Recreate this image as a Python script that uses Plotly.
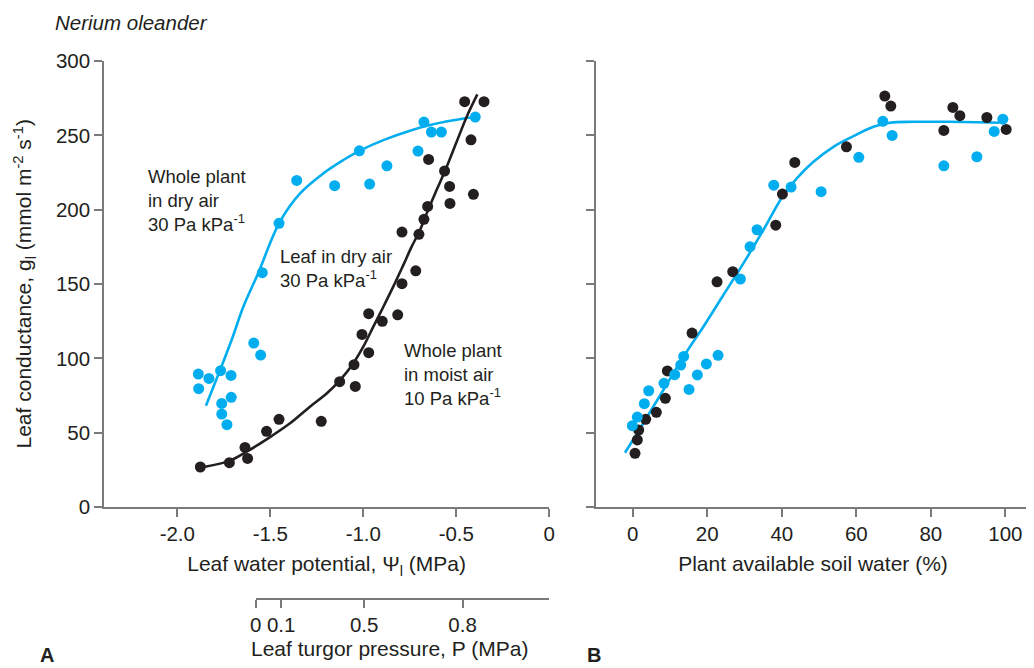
import plotly.graph_objects as go

# ---------------- Data ----------------
# Panel A: leaf conductance vs leaf water potential
dry_psi = [-1.887, -1.830, -1.767, -1.711, -1.885, -1.761, -1.710, -1.761, -1.733,
           -1.589, -1.552, -1.543, -1.453, -1.358, -1.154, -1.021, -0.966, -0.873,
           -0.706, -0.674, -0.634, -0.580, -0.398]
dry_g = [89.4, 86.5, 91.7, 88.5, 79.6, 69.7, 73.8, 62.5, 55.4,
         110.3, 102.2, 157.6, 190.8, 219.7, 216.1, 239.6, 217.2, 229.5,
         239.4, 258.9, 252.2, 252.2, 262.3]

moist_psi = [-1.876, -1.720, -1.636, -1.622, -1.520, -1.453, -1.226, -1.127, -1.043,
             -1.050, -0.971, -1.007, -0.971, -0.898, -0.815, -0.792, -0.718, -0.792,
             -0.701, -0.674, -0.654, -0.649, -0.563, -0.536, -0.534, -0.408, -0.421,
             -0.455, -0.351]
moist_g = [26.9, 29.8, 40.1, 32.7, 50.9, 59.0, 57.6, 84.3, 81.1,
           95.7, 103.8, 116.1, 130.0, 124.9, 129.3, 150.2, 158.9, 184.9,
           183.4, 193.5, 202.2, 233.8, 226.0, 215.6, 204.2, 210.3, 247.0,
           272.6, 272.6]

dry_curve_psi = [-1.846, -1.770, -1.708, -1.645, -1.564, -1.453, -1.340, -1.215,
                 -1.107, -1.021, -0.892, -0.749, -0.641, -0.444, -0.398]
dry_curve_g = [68.1, 92.1, 112.3, 134.7, 157.6, 190.8, 210.9, 224.4,
               233.4, 239.6, 246.8, 253.1, 256.9, 261.6, 262.3]

moist_curve_psi = [-1.851, -1.717, -1.627, -1.520, -1.394, -1.287, -1.197, -1.125,
                   -1.054, -1.000, -0.946, -0.892, -0.839, -0.785, -0.740, -0.695,
                   -0.659, -0.606, -0.561, -0.498, -0.444, -0.387]
moist_curve_g = [27.1, 31.2, 37.2, 45.5, 56.3, 67.5, 76.4, 85.4,
                 96.6, 107.8, 121.3, 134.7, 148.2, 162.7, 175.1, 186.3,
                 197.5, 213.2, 226.0, 245.7, 262.5, 277.5]

# Panel B: leaf conductance vs plant available soil water
soil_black_x = [0.62, 1.24, 1.60, 3.48, 6.34, 8.76, 9.30, 15.92, 22.63, 26.84,
                38.38, 40.17, 43.48, 57.35, 67.64, 69.25, 83.48, 85.90, 87.78,
                95.03, 100.21]
soil_black_g = [36.1, 45.1, 51.8, 59.0, 63.7, 73.1, 91.5, 117.0, 151.5, 158.3,
                189.6, 210.5, 231.8, 242.3, 276.4, 269.7, 253.3, 268.8, 263.2,
                262.0, 254.0]

soil_cyan_x = [-0.10, 1.24, 3.12, 4.29, 8.40, 11.27, 12.88, 13.68, 15.11, 17.35,
               19.77, 22.90, 28.89, 31.49, 33.37, 37.84, 42.50, 50.55, 60.66,
               67.11, 69.61, 83.48, 92.34, 96.99, 99.32]
soil_cyan_g = [54.7, 60.5, 69.5, 78.2, 83.2, 89.0, 95.5, 101.3, 79.1, 88.8,
               96.2, 102.0, 153.3, 175.1, 186.5, 216.5, 215.2, 212.1, 235.2,
               259.4, 249.9, 229.5, 235.6, 252.6, 260.9]

soil_curve_x = [-2.07, 2.85, 8.22, 13.68, 18.96, 24.33, 29.70, 35.07, 40.17,
                44.02, 48.49, 53.86, 59.23, 64.60, 69.07, 75.34, 85.0, 98.42]
soil_curve_g = [36.5, 56.3, 78.7, 101.3, 121.3, 142.6, 163.9, 186.3, 208.7,
                221.0, 232.2, 242.3, 249.5, 255.8, 258.5, 259.1, 259.1, 258.5]

# Tick labels
g_ticks = [0, 50, 100, 150, 200, 250, 300]
psi_ticks = [-2.0, -1.5, -1.0, -0.5, 0]
psi_ticktext = ["-2.0", "-1.5", "-1.0", "-0.5", "0"]
soil_ticks = [0, 20, 40, 60, 80, 100]
turgor_pos_psi = [-1.578, -1.441, -0.995, -0.466]   # leaf water potential at which P is reached
turgor_ticktext = ["0", "0.1", "0.5", "0.8"]

# ---------------- Style ----------------
CYAN = "#00aeef"
BLACK = "#231f20"
AXIS = "#7a7a7a"
TXT = "#231f20"
FONT = "Liberation Sans, Arial, sans-serif"
PAGE_MARGIN = 8            # default body margin of the html page
W, H = 1034 - PAGE_MARGIN, 668 - PAGE_MARGIN

def px_x(p):
    return (p - PAGE_MARGIN) / W

def px_y(p):
    return 1 - (p - PAGE_MARGIN) / H

fig = go.Figure()

# Panel A
fig.add_trace(go.Scatter(x=dry_curve_psi, y=dry_curve_g, mode="lines",
                         line=dict(color=CYAN, width=2.6, shape="spline"),
                         xaxis="x", yaxis="y", showlegend=False, hoverinfo="skip"))
fig.add_trace(go.Scatter(x=moist_curve_psi, y=moist_curve_g, mode="lines",
                         line=dict(color=BLACK, width=2.6, shape="spline"),
                         xaxis="x", yaxis="y", showlegend=False, hoverinfo="skip"))
fig.add_trace(go.Scatter(x=dry_psi, y=dry_g, mode="markers",
                         marker=dict(color=CYAN, size=11),
                         xaxis="x", yaxis="y", showlegend=False))
fig.add_trace(go.Scatter(x=moist_psi, y=moist_g, mode="markers",
                         marker=dict(color=BLACK, size=11),
                         xaxis="x", yaxis="y", showlegend=False))

# Panel B
fig.add_trace(go.Scatter(x=soil_curve_x, y=soil_curve_g, mode="lines",
                         line=dict(color=CYAN, width=2.6, shape="spline"),
                         xaxis="x2", yaxis="y2", showlegend=False, hoverinfo="skip"))
fig.add_trace(go.Scatter(x=soil_black_x, y=soil_black_g, mode="markers",
                         marker=dict(color=BLACK, size=11),
                         xaxis="x2", yaxis="y2", showlegend=False))
fig.add_trace(go.Scatter(x=soil_cyan_x, y=soil_cyan_g, mode="markers",
                         marker=dict(color=CYAN, size=11),
                         xaxis="x2", yaxis="y2", showlegend=False))

# empty trace so the turgor-pressure axis gets its own (transparent) subplot
fig.add_trace(go.Scatter(x=[], y=[], xaxis="x3", yaxis="y", showlegend=False))

tickfont = dict(family=FONT, size=20.5, color=TXT)
titlefont = dict(family=FONT, size=21, color=TXT)

ydom = [px_y(507), px_y(61)]
common_axis = dict(showgrid=False, zeroline=False, showline=True, linecolor=AXIS,
                   linewidth=1.6, ticks="outside", tickcolor=AXIS, ticklen=8,
                   tickwidth=1.6, tickfont=tickfont, automargin=False)

fig.update_layout(
    template="none",
    width=W, height=H,
    margin=dict(l=0, r=0, t=0, b=0, pad=0),
    paper_bgcolor="white", plot_bgcolor="rgba(0,0,0,0)",
    font=dict(family=FONT, color=TXT),
    showlegend=False,
    xaxis=dict(domain=[px_x(104), px_x(549.3)], range=[-2.394, 0], anchor="y",
               tickvals=psi_ticks, ticktext=psi_ticktext,
               title=dict(text="Leaf water potential, Ψ<sub>l</sub> (MPa)", font=titlefont, standoff=12),
               **common_axis),
    yaxis=dict(domain=ydom, range=[0, 300], anchor="x", tickvals=g_ticks,
               **common_axis),
    xaxis2=dict(domain=[px_x(596), px_x(1030)], range=[-9.85, 106.6], anchor="y2",
                tickvals=soil_ticks,
                title=dict(text="Plant available soil water (%)", font=titlefont, standoff=12),
                **common_axis),
    yaxis2=dict(domain=ydom, range=[0, 300], anchor="x2", tickvals=g_ticks,
                showticklabels=False, **common_axis),
    xaxis3=dict(domain=[px_x(255.7), px_x(549.3)], range=[-1.578, 0], anchor="free",
                position=px_y(599), side="bottom",
                tickvals=turgor_pos_psi, ticktext=turgor_ticktext,
                **common_axis),
)

annots = [
    dict(text="<i>Nerium oleander</i>", x=px_x(53), y=px_y(22.5), xanchor="left",
         yanchor="middle", font=dict(family=FONT, size=20.5, color=TXT)),
    dict(text="Leaf conductance, g<sub>l</sub> (mmol m<sup>-2</sup> s<sup>-1</sup>)",
         x=px_x(23.5), y=px_y(284), textangle=-90, xanchor="center", yanchor="middle",
         font=titlefont),
    dict(text="Leaf turgor pressure, P (MPa)", x=px_x(389), y=px_y(648),
         xanchor="center", yanchor="middle", font=titlefont),
    dict(text="<b>A</b>", x=px_x(46.5), y=px_y(655), xanchor="center", yanchor="middle",
         font=dict(family=FONT, size=20, color=TXT)),
    dict(text="<b>B</b>", x=px_x(593.5), y=px_y(655), xanchor="center", yanchor="middle",
         font=dict(family=FONT, size=20, color=TXT)),
]
for a in annots:
    a.update(xref="paper", yref="paper", showarrow=False)
    fig.add_annotation(**a)

lab_font = dict(family=FONT, size=18.5, color=TXT)
series_labels = [
    ("Whole plant<br>in dry air<br>30 Pa kPa<sup>-1</sup>", -2.168, 206.5),
    ("Leaf in dry air<br>30 Pa kPa<sup>-1</sup>", -1.457, 160.1),
    ("Whole plant<br>in moist air<br>10 Pa kPa<sup>-1</sup>", -0.794, 88.8),
]
for txt, lx, ly in series_labels:
    fig.add_annotation(text=txt, x=lx, y=ly, xref="x", yref="y", showarrow=False,
                       xanchor="left", yanchor="middle", align="left", font=lab_font)

fig.write_html("out.html")
